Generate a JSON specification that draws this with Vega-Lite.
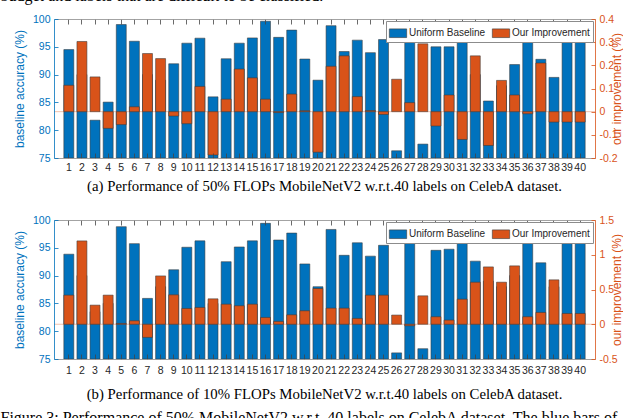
{
  "$schema": "https://vega.github.io/schema/vega-lite/v6.json",
  "background": "white",
  "padding": {"left": 0, "top": -12, "right": 0, "bottom": 0},
  "title": {"text": "Figure 3: Performance of 50% MobileNetV2 w.r.t. 40 labels on CelebA dataset. The blue bars of", "orient": "bottom", "anchor": "start", "frame": "bounds", "dx": 0, "offset": 9, "fontSize": 16},
  "datasets": {
    "a": [
      {"label": 1, "base": 94.5, "imp": 0.114}, {"label": 2, "base": 90, "imp": 0.303}, {"label": 3, "base": 81.8, "imp": 0.15}, {"label": 4, "base": 85.05, "imp": -0.072},
      {"label": 5, "base": 99.0, "imp": -0.056}, {"label": 6, "base": 96.0, "imp": 0.021}, {"label": 7, "base": 90, "imp": 0.251}, {"label": 8, "base": 89, "imp": 0.229},
      {"label": 9, "base": 91.95, "imp": -0.019}, {"label": 10, "base": 95.65, "imp": -0.052}, {"label": 11, "base": 96.55, "imp": 0.109}, {"label": 12, "base": 86.0, "imp": -0.187},
      {"label": 13, "base": 92.85, "imp": 0.054}, {"label": 14, "base": 95.65, "imp": 0.184}, {"label": 15, "base": 96.6, "imp": 0.146}, {"label": 16, "base": 99.6, "imp": 0.054},
      {"label": 17, "base": 96.7, "imp": -0.004}, {"label": 18, "base": 98.0, "imp": 0.076}, {"label": 19, "base": 92.8, "imp": 0.004}, {"label": 20, "base": 89.0, "imp": -0.175},
      {"label": 21, "base": 98.8, "imp": 0.196}, {"label": 22, "base": 94.15, "imp": 0.241}, {"label": 23, "base": 96.2, "imp": 0.065}, {"label": 24, "base": 93.95, "imp": 0.005},
      {"label": 25, "base": 96.3, "imp": -0.012}, {"label": 26, "base": 76.3, "imp": 0.14}, {"label": 27, "base": 99.0, "imp": 0.039}, {"label": 28, "base": 77.5, "imp": 0.293},
      {"label": 29, "base": 95.0, "imp": -0.062}, {"label": 30, "base": 95.0, "imp": 0.072}, {"label": 31, "base": 98.6, "imp": -0.12}, {"label": 32, "base": 90, "imp": 0.241},
      {"label": 33, "base": 85.25, "imp": -0.146}, {"label": 34, "base": 88, "imp": 0.135}, {"label": 35, "base": 91.8, "imp": 0.072}, {"label": 36, "base": 99.1, "imp": -0.009},
      {"label": 37, "base": 92.75, "imp": 0.21}, {"label": 38, "base": 89.5, "imp": -0.045}, {"label": 39, "base": 98.6, "imp": -0.045}, {"label": 40, "base": 98.6, "imp": -0.045}
    ],
    "b": [
      {"label": 1, "base": 93.85, "imp": 0.419}, {"label": 2, "base": 90, "imp": 1.199}, {"label": 3, "base": 83.5, "imp": 0.275}, {"label": 4, "base": 85, "imp": 0.419},
      {"label": 5, "base": 98.8, "imp": 0.012}, {"label": 6, "base": 95.75, "imp": 0.05}, {"label": 7, "base": 85.9, "imp": -0.189}, {"label": 8, "base": 88, "imp": 0.696},
      {"label": 9, "base": 91.05, "imp": 0.423}, {"label": 10, "base": 95.1, "imp": 0.227}, {"label": 11, "base": 96.25, "imp": 0.242}, {"label": 12, "base": 85, "imp": 0.366},
      {"label": 13, "base": 92.5, "imp": 0.289}, {"label": 14, "base": 95.15, "imp": 0.266}, {"label": 15, "base": 96.25, "imp": 0.289}, {"label": 16, "base": 99.4, "imp": 0.098},
      {"label": 17, "base": 96.4, "imp": 0.041}, {"label": 18, "base": 97.65, "imp": 0.136}, {"label": 19, "base": 92.1, "imp": 0.194}, {"label": 20, "base": 88.0, "imp": 0.514},
      {"label": 21, "base": 98.3, "imp": 0.232}, {"label": 22, "base": 93.65, "imp": 0.232}, {"label": 23, "base": 95.9, "imp": 0.084}, {"label": 24, "base": 93.5, "imp": 0.419},
      {"label": 25, "base": 95.45, "imp": 0.419}, {"label": 26, "base": 76.1, "imp": 0.132}, {"label": 27, "base": 96.65, "imp": -0.022}, {"label": 28, "base": 76.85, "imp": 0.409},
      {"label": 29, "base": 94.55, "imp": 0.108}, {"label": 30, "base": 94.75, "imp": 0.06}, {"label": 31, "base": 96.7, "imp": 0.361}, {"label": 32, "base": 92.6, "imp": 0.605},
      {"label": 33, "base": 89, "imp": 0.825}, {"label": 34, "base": 88, "imp": 0.605}, {"label": 35, "base": 90, "imp": 0.84}, {"label": 36, "base": 98.2, "imp": 0.108},
      {"label": 37, "base": 92.3, "imp": 0.17}, {"label": 38, "base": 88, "imp": 0.639}, {"label": 39, "base": 96.35, "imp": 0.155}, {"label": 40, "base": 96.35, "imp": 0.155}
    ]
  },
  "vconcat": [
    {
      "title": {"text": "budget and labels that are difficult to be classified.", "orient": "top", "anchor": "start", "frame": "bounds", "dx": -13, "offset": 10, "fontSize": 16},
      "spacing": 21,
      "vconcat": [
        {
          "width": 541, "height": 139,
          "data": {"name": "a"},
          "title": {"text": "(a) Performance of 50% FLOPs MobileNetV2 w.r.t.40 labels on CelebA dataset.", "orient": "bottom", "anchor": "middle", "offset": 6, "fontSize": 14.8},
          "layer": [
            {
              "mark": {"type": "bar", "stroke": "#3a3a3a", "strokeWidth": 0.7, "strokeOpacity": 0.8},
              "encoding": {
                "x": {"field": "label", "type": "ordinal", "sort": null, "scale": {"paddingInner": 0.24, "paddingOuter": 0.75},
                  "axis": {"orient": "bottom", "labelAngle": 0, "title": null, "domainColor": "#8c8c8c", "tickColor": "#444444", "tickSize": -5, "labelPadding": 9, "labelColor": "#262626", "labelFontSize": 10.5, "zindex": 1}},
                "y": {"field": "base", "type": "quantitative", "scale": {"domain": [75, 100], "nice": false, "zero": false},
                  "axis": {"orient": "left", "values": [75, 80, 85, 90, 95, 100], "title": "baseline accuracy (%)", "titleColor": "#0072BD", "labelColor": "#0072BD", "domainColor": "#0072BD", "tickColor": "#0072BD", "tickSize": -4, "labelPadding": 8, "titlePadding": 6, "zindex": 1}},
                "y2": {"datum": 75},
                "color": {"datum": "Uniform Baseline", "type": "nominal", "scale": {"domain": ["Uniform Baseline", "Our Improvement"], "range": ["#0072BD", "#D95319"]},
                  "legend": {"title": null, "orient": "top-right", "direction": "horizontal", "fillColor": "white", "strokeColor": "#8c8c8c", "padding": 3, "offset": 2, "symbolType": "M-1,-0.5H1V0.5H-1Z", "symbolSize": 300, "symbolStrokeWidth": 0.6, "symbolStrokeColor": "#333333", "labelFontSize": 10, "labelColor": "#262626", "columnPadding": 5, "labelOffset": 2, "zindex": 1}}
              }
            },
            {
              "data": {"values": [{"zero": 0}]},
              "mark": {"type": "rule", "color": "#D95319", "strokeWidth": 0.6, "opacity": 0.6},
              "encoding": {"y": {"field": "zero", "type": "quantitative", "scale": {"domain": [-0.2, 0.4], "nice": false, "zero": false}, "axis": null}}
            },
            {
              "mark": {"type": "bar", "stroke": "#3a3a3a", "strokeWidth": 0.7, "strokeOpacity": 0.8},
              "encoding": {
                "x": {"field": "label", "type": "ordinal", "sort": null, "axis": {"orient": "top", "labels": false, "title": null, "domainColor": "#8c8c8c", "tickColor": "#444444", "tickSize": -5, "zindex": 1}},
                "y": {"field": "imp", "type": "quantitative", "scale": {"domain": [-0.2, 0.4], "nice": false, "zero": false},
                  "axis": {"orient": "right", "values": [-0.2, -0.1, 0, 0.1, 0.2, 0.3, 0.4], "labelExpr": "'' + datum.value", "title": "our improvement (%)", "titleAngle": 270, "titleColor": "#D95319", "labelColor": "#D95319", "domainColor": "#D95319", "tickColor": "#D95319", "tickSize": -4, "labelPadding": 8, "titlePadding": 6, "zindex": 1}},
                "y2": {"datum": 0},
                "color": {"datum": "Our Improvement", "type": "nominal"}
              }
            }
          ],
          "resolve": {"scale": {"y": "independent"}}
        },
        {
          "width": 541, "height": 139,
          "data": {"name": "b"},
          "title": {"text": "(b) Performance of 10% FLOPs MobileNetV2 w.r.t.40 labels on CelebA dataset.", "orient": "bottom", "anchor": "middle", "offset": 11, "fontSize": 14.8},
          "layer": [
            {
              "mark": {"type": "bar", "stroke": "#3a3a3a", "strokeWidth": 0.7, "strokeOpacity": 0.8},
              "encoding": {
                "x": {"field": "label", "type": "ordinal", "sort": null, "scale": {"paddingInner": 0.24, "paddingOuter": 0.75},
                  "axis": {"orient": "bottom", "labelAngle": 0, "title": null, "domainColor": "#8c8c8c", "tickColor": "#444444", "tickSize": -5, "labelPadding": 11, "labelColor": "#262626", "labelFontSize": 10.5, "zindex": 1}},
                "y": {"field": "base", "type": "quantitative", "scale": {"domain": [75, 100], "nice": false, "zero": false},
                  "axis": {"orient": "left", "values": [75, 80, 85, 90, 95, 100], "title": "baseline accuracy (%)", "titleColor": "#0072BD", "labelColor": "#0072BD", "domainColor": "#0072BD", "tickColor": "#0072BD", "tickSize": -4, "labelPadding": 8, "titlePadding": 6, "zindex": 1}},
                "y2": {"datum": 75},
                "color": {"datum": "Uniform Baseline", "type": "nominal", "scale": {"domain": ["Uniform Baseline", "Our Improvement"], "range": ["#0072BD", "#D95319"]},
                  "legend": {"title": null, "orient": "top-right", "direction": "horizontal", "fillColor": "white", "strokeColor": "#8c8c8c", "padding": 3, "offset": 2, "symbolType": "M-1,-0.5H1V0.5H-1Z", "symbolSize": 300, "symbolStrokeWidth": 0.6, "symbolStrokeColor": "#333333", "labelFontSize": 10, "labelColor": "#262626", "columnPadding": 5, "labelOffset": 2, "zindex": 1}}
              }
            },
            {
              "data": {"values": [{"zero": 0}]},
              "mark": {"type": "rule", "color": "#D95319", "strokeWidth": 0.6, "opacity": 0.6},
              "encoding": {"y": {"field": "zero", "type": "quantitative", "scale": {"domain": [-0.5, 1.5], "nice": false, "zero": false}, "axis": null}}
            },
            {
              "mark": {"type": "bar", "stroke": "#3a3a3a", "strokeWidth": 0.7, "strokeOpacity": 0.8},
              "encoding": {
                "x": {"field": "label", "type": "ordinal", "sort": null, "axis": {"orient": "top", "labels": false, "title": null, "domainColor": "#8c8c8c", "tickColor": "#444444", "tickSize": -5, "zindex": 1}},
                "y": {"field": "imp", "type": "quantitative", "scale": {"domain": [-0.5, 1.5], "nice": false, "zero": false},
                  "axis": {"orient": "right", "values": [-0.5, 0, 0.5, 1, 1.5], "labelExpr": "'' + datum.value", "title": "our improvement (%)", "titleAngle": 270, "titleColor": "#D95319", "labelColor": "#D95319", "domainColor": "#D95319", "tickColor": "#D95319", "tickSize": -4, "labelPadding": 8, "titlePadding": 6, "zindex": 1}},
                "y2": {"datum": 0},
                "color": {"datum": "Our Improvement", "type": "nominal"}
              }
            }
          ],
          "resolve": {"scale": {"y": "independent"}}
        }
      ],
      "resolve": {"scale": {"color": "independent"}, "legend": {"color": "independent"}}
    }
  ],
  "config": {
    "view": {"stroke": null},
    "font": "Liberation Sans",
    "axis": {"grid": false, "labelFont": "Liberation Sans", "titleFont": "Liberation Sans", "labelFontSize": 10.5, "titleFontSize": 12, "titleFontWeight": "normal", "domainWidth": 0.8, "tickWidth": 0.8},
    "legend": {"labelFont": "Liberation Sans"},
    "title": {"font": "Liberation Serif", "fontSize": 14, "fontWeight": "normal", "color": "#000000"}
  }
}
